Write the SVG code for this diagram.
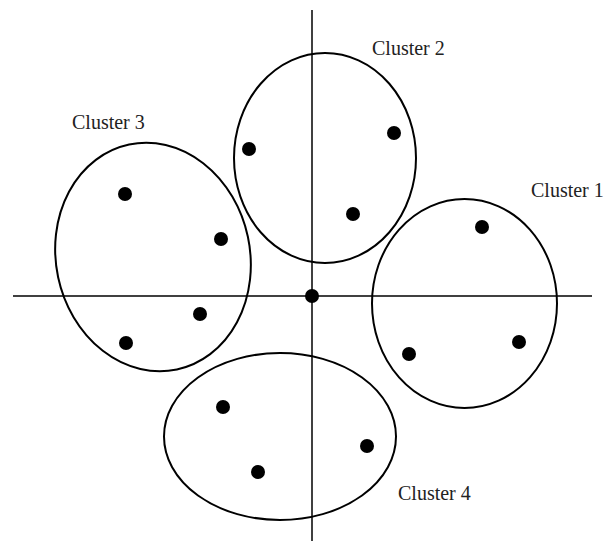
<svg xmlns="http://www.w3.org/2000/svg" width="616" height="541" viewBox="0 0 616 541">
<style>
.ax{stroke:#000;stroke-width:1.5;fill:none}
.cl{stroke:#000;stroke-width:2;fill:none}
.pt{fill:#000}
.lb{font-family:"Liberation Serif","Times New Roman",serif;font-size:20px;fill:#222}
</style>
<rect width="616" height="541" fill="#fff"/>
<g id="connectors">
<line class="ax" x1="312" y1="10" x2="312" y2="541"/>
<line class="ax" x1="13" y1="296" x2="592" y2="296"/>
</g>
<g id="cluster1">
<ellipse class="cl" cx="464.5" cy="303.5" rx="92.5" ry="104.5"/>
<circle class="pt" cx="482" cy="227" r="7"/>
<circle class="pt" cx="409" cy="354" r="7"/>
<circle class="pt" cx="519" cy="342" r="7"/>
<text class="lb" x="531" y="197">Cluster 1</text>
</g>
<g id="cluster2">
<ellipse class="cl" cx="325" cy="158" rx="91" ry="105"/>
<circle class="pt" cx="249" cy="149" r="7"/>
<circle class="pt" cx="394" cy="133" r="7"/>
<circle class="pt" cx="353" cy="214" r="7"/>
<text class="lb" x="372" y="55">Cluster 2</text>
</g>
<g id="cluster3">
<ellipse class="cl" cx="153" cy="257" rx="97" ry="115" transform="rotate(-12 153 257)"/>
<circle class="pt" cx="125" cy="194" r="7"/>
<circle class="pt" cx="221" cy="239" r="7"/>
<circle class="pt" cx="200" cy="314" r="7"/>
<circle class="pt" cx="126" cy="343" r="7"/>
<text class="lb" x="72" y="129">Cluster 3</text>
</g>
<g id="cluster4">
<ellipse class="cl" cx="280" cy="436.5" rx="116" ry="83.5"/>
<circle class="pt" cx="223" cy="407" r="7"/>
<circle class="pt" cx="367" cy="446" r="7"/>
<circle class="pt" cx="258" cy="472" r="7"/>
<text class="lb" x="398" y="500">Cluster 4</text>
</g>
<g id="origin">
<circle class="pt" cx="312" cy="296" r="7"/>
</g>
</svg>
